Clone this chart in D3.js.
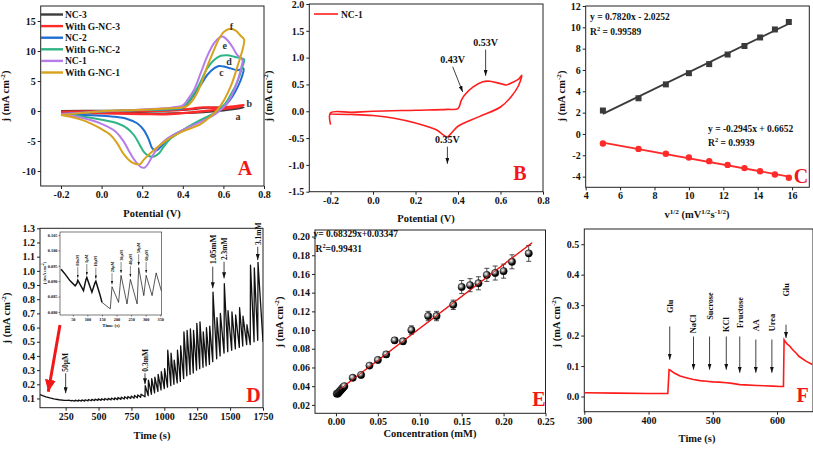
<!DOCTYPE html>
<html><head><meta charset="utf-8">
<script src="https://cdn.jsdelivr.net/npm/d3@7"></script>
<style>
body{margin:0;background:#fff}
svg{display:block}
text{font-family:"Liberation Serif","Times New Roman",serif;font-weight:bold}
</style></head><body>
<svg id="c" width="813" height="449"></svg>
<script>
// ---------------- DATA ----------------
// Panel A : cyclic voltammograms [E (V), j (mA cm-2)]
const cvNC3 = [[-0.2,0.0],[0.0,0.05],[0.2,0.08],[0.35,0.12],[0.45,0.3],[0.5,0.5],[0.55,0.6],[0.6,0.55],[0.65,0.55],[0.7,0.6],[0.68,0.45],[0.6,0.1],[0.5,-0.2],[0.4,-0.35],[0.3,-0.4],[0.1,-0.25],[-0.2,-0.1]];
const cvGNC3 = [[-0.2,-0.15],[0.0,-0.05],[0.2,0.0],[0.35,0.1],[0.45,0.4],[0.5,0.6],[0.55,0.55],[0.6,0.6],[0.65,0.75],[0.7,1.0],[0.68,0.75],[0.6,0.35],[0.5,-0.05],[0.4,-0.35],[0.3,-0.55],[0.2,-0.5],[0.0,-0.4],[-0.2,-0.35]];
const cvNC2 = [[-0.2,-0.5],[-0.1,-0.3],[0.0,-0.1],[0.2,0.15],[0.35,0.3],[0.4,0.45],[0.455,2.7],[0.488,4.3],[0.52,6.0],[0.554,7.1],[0.579,7.5],[0.603,7.4],[0.636,7.1],[0.669,6.8],[0.699,7.1],[0.694,6.0],[0.672,4.1],[0.644,2.4],[0.611,1.0],[0.57,-0.1],[0.488,-1.6],[0.4,-3.2],[0.34,-4.3],[0.307,-5.4],[0.282,-6.3],[0.266,-6.6],[0.249,-6.2],[0.233,-4.8],[0.208,-3.2],[0.175,-2.05],[0.126,-1.33],[0.06,-0.95],[-0.006,-0.78],[-0.088,-0.67],[-0.2,-0.5]];
const cvGNC2 = [[-0.2,-0.6],[-0.1,-0.35],[0.0,-0.1],[0.2,0.15],[0.35,0.35],[0.4,0.6],[0.455,2.9],[0.488,4.9],[0.52,7.1],[0.554,8.5],[0.587,9.2],[0.62,9.3],[0.653,9.05],[0.686,8.8],[0.702,8.6],[0.694,7.4],[0.669,4.9],[0.636,2.7],[0.603,1.0],[0.554,-0.4],[0.488,-1.5],[0.4,-3.2],[0.34,-4.6],[0.307,-5.9],[0.282,-7.1],[0.258,-7.6],[0.233,-7.5],[0.208,-6.8],[0.184,-5.4],[0.159,-4.0],[0.126,-2.9],[0.077,-2.05],[-0.006,-1.4],[-0.088,-0.95],[-0.2,-0.6]];
const cvNC1 = [[-0.2,-0.5],[-0.1,-0.3],[0.0,-0.05],[0.2,0.25],[0.35,0.6],[0.4,0.95],[0.422,1.8],[0.455,3.5],[0.488,6.3],[0.52,9.1],[0.554,11.3],[0.579,12.2],[0.595,12.4],[0.62,11.8],[0.644,10.7],[0.669,9.3],[0.694,8.5],[0.689,7.4],[0.66,4.1],[0.628,1.8],[0.595,0.44],[0.554,-0.67],[0.488,-1.8],[0.4,-3.2],[0.323,-4.6],[0.282,-5.9],[0.249,-7.6],[0.225,-9.0],[0.211,-9.45],[0.192,-9.3],[0.167,-8.4],[0.142,-7.1],[0.109,-5.1],[0.068,-3.4],[-0.006,-2.05],[-0.088,-1.2],[-0.2,-0.55]];
const cvGNC1 = [[-0.2,-0.67],[-0.1,-0.35],[0.0,-0.05],[0.2,0.2],[0.35,0.45],[0.4,0.6],[0.42,0.8],[0.455,2.1],[0.488,4.3],[0.52,7.4],[0.554,10.2],[0.579,12.1],[0.603,13.2],[0.636,13.7],[0.661,13.4],[0.686,12.5],[0.702,11.9],[0.669,7.4],[0.636,4.1],[0.603,1.8],[0.57,0.17],[0.537,-0.9],[0.488,-2.2],[0.4,-3.4],[0.323,-4.8],[0.258,-6.5],[0.208,-8.1],[0.19,-8.85],[0.165,-8.8],[0.142,-8.4],[0.109,-7.2],[0.077,-5.4],[0.044,-4.0],[-0.006,-2.9],[-0.055,-2.05],[-0.105,-1.4],[-0.154,-0.95],[-0.2,-0.67]];
const cvNames = ["NC-3","With G-NC-3","NC-2","With G-NC-2","NC-1","With G-NC-1"];
const cvLetters = ["a","b","c","d","e","f"];
const cvLetterPos = [[0.672,-0.9],[0.727,1.3],[0.59,6.5],[0.628,8.2],[0.607,11.0],[0.64,14.1]];

// Panel B : NC-1 CV
const cvB = [[-0.2,-0.25],[-0.2,-0.03],[-0.1,-0.02],[0.0,0.0],[0.2,0.02],[0.35,0.035],[0.4,0.05],[0.415,0.2],[0.43,0.3],[0.47,0.45],[0.517,0.55],[0.55,0.56],[0.595,0.52],[0.627,0.49],[0.658,0.54],[0.685,0.6],[0.7,0.67],[0.685,0.48],[0.65,0.27],[0.6,0.08],[0.5,-0.1],[0.4,-0.28],[0.37,-0.4],[0.35,-0.48],[0.33,-0.44],[0.3,-0.35],[0.2,-0.22],[0.1,-0.13],[0.0,-0.08],[-0.1,-0.06],[-0.2,-0.05]];
const bPeakLabels = ["0.43V","0.53V","0.35V"];
const bPeakTip = [[0.422,0.36],[0.53,0.66],[0.35,-0.98]];
const bPeakTail = [[0.375,0.83],[0.53,1.15],[0.35,-0.66]];

// Panel C : j vs v^1/2
const cX = [5,7.07,8.66,10,11.18,12.25,13.23,14.14,15,15.81];
const cAnodic = [2.2,3.35,4.65,5.7,6.55,7.45,8.25,9.05,9.8,10.5];
const cCathodic = [-0.9,-1.4,-1.85,-2.2,-2.55,-2.9,-3.2,-3.5,-3.8,-4.1];
const cFitA = [0.7820,-2.0252], cFitC = [-0.2945,0.6652];

// Panel D : amperometric i-t
const dDecay = [[55,0.128],[75,0.12],[100,0.112],[130,0.104],[160,0.097],[200,0.091],[240,0.087],[255,0.086]];
const dSmallT = [270,295,320,345,370,395,420,445,470,495,520,545,570,595,620,645,670,695,720,745,770,795,820];
const dSmallPeak = [0.088,0.087,0.088,0.089,0.09,0.091,0.093,0.094,0.095,0.097,0.098,0.1,0.101,0.103,0.104,0.107,0.109,0.112,0.114,0.117,0.121,0.125,0.13];
const dSmallTrough = [0.083,0.081,0.081,0.082,0.082,0.083,0.084,0.085,0.086,0.087,0.088,0.089,0.09,0.091,0.092,0.094,0.096,0.098,0.1,0.102,0.105,0.108,0.112];
const dBigT = [853,877,902,926,951,975,1000,1024,1049,1073,1098,1122,1147,1171,1196,1220,1245,1269,1294,1318,1343,1368,1398,1424,1454,1482,1512,1540,1570,1596,1626,1653,1682,1710];
const dBigPeak = [0.19,0.23,0.24,0.25,0.27,0.29,0.31,0.44,0.42,0.37,0.44,0.47,0.57,0.58,0.59,0.58,0.63,0.64,0.57,0.60,0.61,0.85,0.67,0.70,0.91,0.72,0.71,0.69,0.74,0.68,0.62,1.04,1.02,1.06];
const dBigTrough = [0.12,0.13,0.14,0.15,0.16,0.17,0.18,0.19,0.2,0.21,0.22,0.24,0.26,0.27,0.28,0.3,0.31,0.32,0.33,0.34,0.36,0.38,0.4,0.42,0.43,0.44,0.45,0.46,0.47,0.48,0.48,0.5,0.51,0.5];
const dEndT = 1750;
const dAnnLabel = ["50\u03bcM","0.3mM","1.05mM","2.3mM","3.1mM"];
const dAnnT = [250,853,1368,1454,1710];
const dAnnTip = [0.137,0.2,0.877,0.947,1.076];
const dAnnTop = [0.278,0.278,1.029,1.064,1.17];
const dAnnText = [0.289,0.289,1.046,1.076,1.182];
// inset of D
const insetData = [[9.7,0.0939],[23.5,0.0923],[40.7,0.0901],[58,0.0885],[64,0.0893],[67,0.0903],[86.6,0.0869],[95,0.0905],[98,0.0912],[115.5,0.0864],[126,0.0895],[129,0.0900],[144,0.0853],[150,0.0831],[178.6,0.0810],[184.5,0.0882],[207,0.0831],[215.5,0.0919],[236,0.0826],[247.6,0.0906],[270.7,0.0826],[276,0.0944],[293.6,0.0853],[301.7,0.0919],[322,0.0853],[336,0.0927],[354,0.0868]];
const insetAnnLabel = ["80nM","1\u03bcM","10\u03bcM","20\u03bcM","30\u03bcM","40\u03bcM","50\u03bcM","60\u03bcM"];
const insetAnnT = [67,98,129,184.5,215.5,247.6,276,301.7];
const insetAnnJ = [0.0903,0.0912,0.0900,0.0882,0.0919,0.0906,0.0944,0.0919];

// Panel E : calibration
const eConc = [0.001,0.002,0.003,0.004,0.005,0.006,0.007,0.008,0.009,0.01,0.02,0.03,0.04,0.05,0.06,0.07,0.08,0.09,0.11,0.12,0.14,0.15,0.16,0.17,0.18,0.19,0.20,0.21,0.23];
const eJ = [0.032,0.032,0.033,0.034,0.035,0.036,0.037,0.038,0.039,0.040,0.049,0.052,0.062,0.068,0.074,0.089,0.088,0.100,0.115,0.115,0.127,0.146,0.148,0.150,0.159,0.161,0.163,0.173,0.182];
const eErr = [0.001,0.001,0.001,0.001,0.001,0.001,0.001,0.001,0.001,0.001,0.002,0.002,0.002,0.002,0.003,0.003,0.003,0.0045,0.005,0.005,0.005,0.007,0.007,0.007,0.007,0.0075,0.0075,0.0075,0.0085];
const eFit = [0.68329,0.03347], eFitRange = [0.005,0.234];

// Panel F : interference
const fT = [300,350,400,430,432,434,440,449,460,470,480,490,500,510,521,530,542,550,568,580,594,605,610,611,613,616,620,624,630,634,645,655];
const fJ = [0.012,0.011,0.010,0.010,0.088,0.086,0.077,0.067,0.061,0.056,0.052,0.050,0.048,0.047,0.045,0.043,0.039,0.038,0.036,0.035,0.034,0.033,0.033,0.186,0.180,0.172,0.165,0.154,0.142,0.132,0.116,0.105];
const fAnnLabel = ["Glu","NaCl","Sucrose","KCl","Fructose","AA","Urea","Glu"];
const fAnnT = [433,470,495,521,542,567,592,614];
const fAnnTip = [0.121,0.088,0.088,0.088,0.078,0.078,0.078,0.192];
const fAnnTop = [0.23,0.197,0.197,0.197,0.197,0.187,0.187,0.236];
const fAnnText = [0.274,0.208,0.252,0.212,0.225,0.214,0.214,0.328];

// ---------------- DRAWING ----------------
const svg = d3.select('#c');
svg.append('rect').attr('width',813).attr('height',449).attr('fill','#fff');
const defs = svg.append('defs');
function marker(id, color, w, l){
  defs.append('marker').attr('id',id).attr('markerUnits','userSpaceOnUse')
    .attr('markerWidth',l).attr('markerHeight',w).attr('refX',l).attr('refY',w/2)
    .attr('orient','auto').append('path').attr('d',`M0,0L${l},${w/2}L0,${w}Z`).attr('fill',color);
}
marker('ah','#111',4,6);
marker('ahs','#111',2.4,3.2);
marker('ahr','#f01818',11,12);
const grad = defs.append('radialGradient').attr('id','ball').attr('cx','38%').attr('cy','36%').attr('r','60%');
grad.append('stop').attr('offset','0%').attr('stop-color','#ffffff');
grad.append('stop').attr('offset','35%').attr('stop-color','#9a9a9a');
grad.append('stop').attr('offset','75%').attr('stop-color','#111');
grad.append('stop').attr('offset','100%').attr('stop-color','#000');

const fmt = s => (d => d3.format(s)(d).replace('\u2212','-'));
const FONT = '"Liberation Serif","Times New Roman",serif';
let clipN = 0;
function panel(p){
  const g = svg.append('g');
  const x = d3.scaleLinear().domain(p.xd).range(p.xr);
  const y = d3.scaleLinear().domain(p.yd).range(p.yr);
  const ts = p.ts || 3, fs = p.fs || 10;
  g.append('rect').attr('x',p.xr[0]).attr('y',p.yr[1]).attr('width',p.xr[1]-p.xr[0]).attr('height',p.yr[0]-p.yr[1])
    .attr('fill',p.fill||'none').attr('stroke','#222').attr('stroke-width',p.sw||1);
  const ax = g.append('g').attr('transform',`translate(0,${p.yr[0]})`)
    .call(d3.axisBottom(x).tickValues(p.xt).tickFormat(p.xf).tickSize(ts).tickPadding(p.tp||2));
  const ay = g.append('g').attr('transform',`translate(${p.xr[0]},0)`)
    .call(d3.axisLeft(y).tickValues(p.yt).tickFormat(p.yf).tickSize(ts).tickPadding(p.tp||2));
  [ax,ay].forEach(a=>{
    a.select('.domain').remove();
    a.selectAll('line').attr('stroke','#222').attr('stroke-width',p.sw||1);
    a.selectAll('text').attr('font-size',fs).attr('font-family',FONT).attr('font-weight','bold').attr('fill','#111');
  });
  const clipId = 'clip'+(clipN++);
  defs.append('clipPath').attr('id',clipId).append('rect').attr('x',p.xr[0]).attr('y',p.yr[1]).attr('width',p.xr[1]-p.xr[0]).attr('height',p.yr[0]-p.yr[1]);
  const plot = g.append('g').attr('clip-path',`url(#${clipId})`);
  return {g,x,y,plot};
}
function rich(g, x, y, parts, o){
  const size = o.size||10;
  const t = g.append('text').attr('x',x).attr('y',y).attr('font-size',size)
    .attr('text-anchor',o.anchor||'start').attr('fill',o.fill||'#111');
  if (o.rotate) t.attr('transform',`rotate(${o.rotate},${x},${y})`);
  let up = false; const sh = size*0.4;
  parts.forEach(([s,sup])=>{
    const sp = t.append('tspan').text(s);
    if (sup){ sp.attr('font-size',size*0.68); if(!up){sp.attr('dy',-sh); up=true;} }
    else if (up){ sp.attr('dy',sh); up=false; }
  });
  return t;
}
const jLabel = [['j (mA cm',0],['-2',1],[')',0]];
function letter(x,y,s){ svg.append('text').attr('x',x).attr('y',y).attr('text-anchor','middle').attr('font-size',20).attr('fill','#f01818').text(s); }
function arrow(g,x1,y1,x2,y2,m,w){ g.append('line').attr('x1',x1).attr('y1',y1).attr('x2',x2).attr('y2',y2).attr('stroke','#111').attr('stroke-width',w||0.8).attr('marker-end',`url(#${m||'ah'})`); }

// ===== Panel A =====
{
  const P = panel({xd:[-0.3,0.8],xr:[40.7,264],yd:[-12.5,17.5],yr:[186,6],
    xt:[-0.2,0,0.2,0.4,0.6,0.8],xf:fmt('.1f'),yt:[-10,-5,0,5,10,15],yf:fmt('d')});
  const series = [cvNC3,cvGNC3,cvNC2,cvGNC2,cvNC1,cvGNC1];
  const colors = ['#3c3c3c','#ff2a2a','#1f6fd2','#2fb585','#b67ce8','#d7a21e'];
  const line = d3.line().x(d=>P.x(d[0])).y(d=>P.y(d[1])).curve(d3.curveCatmullRom.alpha(0.5));
  series.forEach((s,i)=>P.plot.append('path').attr('d',line(s)).attr('fill','none').attr('stroke',colors[i]).attr('stroke-width',i===1?2.4:2));
  cvNames.forEach((n,i)=>{
    const yy = 14.5 + i*11.6;
    P.g.append('line').attr('x1',41).attr('x2',63).attr('y1',yy).attr('y2',yy).attr('stroke',colors[i]).attr('stroke-width',2.4);
    P.g.append('text').attr('x',65).attr('y',yy+3.4).attr('font-size',9.5).attr('fill','#111').text(n);
  });
  cvLetters.forEach((l,i)=>P.g.append('text').attr('x',P.x(cvLetterPos[i][0])).attr('y',P.y(cvLetterPos[i][1])+3.5)
    .attr('text-anchor','middle').attr('font-size',10).attr('font-weight','normal').attr('fill','#333').text(l));
  rich(svg,9,96,jLabel,{size:10.5,anchor:'middle',rotate:-90});
  rich(svg,152,217,[['Potential (V)',0]],{size:10.5,anchor:'middle'});
  letter(245,175,'A');
}
// ===== Panel B =====
{
  const P = panel({xd:[-0.3,0.8],xr:[309.3,543],yd:[-1.5,2.0],yr:[191.7,4],
    xt:[-0.2,0,0.2,0.4,0.6,0.8],xf:fmt('.1f'),yt:[-1.5,-1,-0.5,0,0.5,1,1.5,2],yf:fmt('.1f')});
  const line = d3.line().x(d=>P.x(d[0])).y(d=>P.y(d[1])).curve(d3.curveCatmullRom.alpha(0.5));
  P.plot.append('path').attr('d',line(cvB)).attr('fill','none').attr('stroke','#ff1e1e').attr('stroke-width',1.6);
  P.g.append('line').attr('x1',314).attr('x2',338).attr('y1',14).attr('y2',14).attr('stroke','#ff1e1e').attr('stroke-width',1.6);
  P.g.append('text').attr('x',341).attr('y',17.5).attr('font-size',9.5).attr('fill','#111').text('NC-1');
  bPeakLabels.forEach((l,i)=>{
    const tx=P.x(bPeakTail[i][0]), ty=P.y(bPeakTail[i][1]);
    arrow(P.g,tx,ty,P.x(bPeakTip[i][0]),P.y(bPeakTip[i][1]));
    const above = bPeakTip[i][1] > bPeakTail[i][1] ? false : true;
    P.g.append('text').attr('x',tx).attr('y',above? ty-3.5 : ty+11).attr('text-anchor','middle').attr('font-size',10).attr('fill','#111').text(l);
  });
  rich(svg,272,96,jLabel,{size:10.5,anchor:'middle',rotate:-90});
  rich(svg,426,222,[['Potential (V)',0]],{size:10.5,anchor:'middle'});
  letter(520,180,'B');
}
// ===== Panel C =====
{
  const P = panel({xd:[4,17],xr:[585.7,809.3],yd:[-5,12],yr:[187.3,6],
    xt:[4,6,8,10,12,14,16],xf:fmt('d'),yt:[-4,-2,0,2,4,6,8,10,12],yf:fmt('d')});
  const x0=cX[0], x1=cX[cX.length-1];
  [[cFitA,'#3a3a3a'],[cFitC,'#ff2a2a']].forEach(([f,c])=>P.plot.append('line')
    .attr('x1',P.x(x0)).attr('x2',P.x(x1)).attr('y1',P.y(f[0]*x0+f[1])).attr('y2',P.y(f[0]*x1+f[1])).attr('stroke',c).attr('stroke-width',1.8));
  cX.forEach((xv,i)=>{
    P.plot.append('rect').attr('x',P.x(xv)-3).attr('y',P.y(cAnodic[i])-3).attr('width',6).attr('height',6).attr('fill','#3a3a3a');
    P.plot.append('circle').attr('cx',P.x(xv)).attr('cy',P.y(cCathodic[i])).attr('r',3.2).attr('fill','#ff2a2a');
  });
  rich(P.g,590,20,[['y = 0.7820x - 2.0252',0]],{size:9.5});
  rich(P.g,590,34.5,[['R',0],['2',1],[' = 0.99589',0]],{size:9.5});
  rich(P.g,708,131.5,[['y = -0.2945x + 0.6652',0]],{size:9.5});
  rich(P.g,708,146,[['R',0],['2',1],[' = 0.9939',0]],{size:9.5});
  rich(svg,565,96,jLabel,{size:10.5,anchor:'middle',rotate:-90});
  rich(svg,697,218,[['v',0],['1/2',1],[' (mV',0],['1/2',1],['s',0],['-1/2',1],[')',0]],{size:10.5,anchor:'middle'});
  letter(801,182.7,'C');
}
// ===== Panel D =====
{
  const P = panel({xd:[55,1750],xr:[40,263],yd:[0.035,1.3],yr:[407.7,228.3],
    xt:[250,500,750,1000,1250,1500,1750],xf:fmt('d'),
    yt:[0.1,0.2,0.3,0.4,0.5,0.6,0.7,0.8,0.9,1.0,1.1,1.2,1.3],yf:fmt('.1f')});
  const pts = dDecay.slice();
  let prev = dDecay[dDecay.length-1][1];
  dSmallT.forEach((t,i)=>{
    pts.push([t,prev],[t+3,dSmallPeak[i]]);
    prev = dSmallTrough[i];
    pts.push([i<dSmallT.length-1?dSmallT[i+1]:dBigT[0], prev]);
  });
  dBigT.forEach((t,i)=>{
    pts.push([t,prev],[t+2,dBigPeak[i]]);
    prev = dBigTrough[i];
    pts.push([i<dBigT.length-1?dBigT[i+1]:dEndT, prev]);
  });
  const line = d3.line().x(d=>P.x(d[0])).y(d=>P.y(d[1]));
  P.plot.append('path').attr('d',line(pts)).attr('fill','none').attr('stroke','#111').attr('stroke-width',1.3).attr('stroke-linejoin','round');
  dAnnLabel.forEach((l,i)=>{
    const xx = P.x(dAnnT[i]);
    arrow(P.g,xx,P.y(dAnnTop[i]),xx,P.y(dAnnTip[i]));
    const ty = P.y(dAnnText[i]);
    P.g.append('text').attr('x',xx+2.8).attr('y',ty).attr('transform',`rotate(-90,${xx+2.8},${ty})`)
      .attr('font-size',i===2?8.5:7.5).attr('fill','#111').text(l);
  });
  // red arrow
  P.g.append('line').attr('x1',P.x(207)).attr('y1',P.y(0.618)).attr('x2',P.x(118)).attr('y2',P.y(0.148))
    .attr('stroke','#f01818').attr('stroke-width',3).attr('marker-end','url(#ahr)');
  // inset
  const I = panel({xd:[6,355],xr:[60,161.7],yd:[0.079,0.106],yr:[315,232],fill:'#fff',
    xt:[50,100,150,200,250,300,350],xf:fmt('d'),yt:[0.08,0.085,0.09,0.095,0.1,0.105],yf:fmt('.3f'),
    ts:1.5,fs:4.3,tp:1,sw:0.6});
  const il = d3.line().x(d=>I.x(d[0])).y(d=>I.y(d[1]));
  I.plot.append('path').attr('d',il(insetData.filter(d=>d[0]<=150))).attr('fill','none').attr('stroke','#111').attr('stroke-width',1.5);
  I.plot.append('path').attr('d',il(insetData.filter(d=>d[0]>=150))).attr('fill','none').attr('stroke','#111').attr('stroke-width',0.7);
  insetAnnLabel.forEach((l,i)=>{
    const xx = I.x(insetAnnT[i]), tip = I.y(insetAnnJ[i]) - 2.5;
    arrow(I.g,xx,tip-11,xx,tip,'ahs',0.5);
    I.g.append('text').attr('x',xx+1.5).attr('y',tip-12).attr('transform',`rotate(-90,${xx+1.5},${tip-12})`)
      .attr('font-size',4.3).attr('fill','#111').text(l);
  });
  rich(svg,46,273,jLabel,{size:4.6,anchor:'middle',rotate:-90});
  rich(svg,111,327,[['Time (s)',0]],{size:5,anchor:'middle'});
  rich(svg,10,318,jLabel,{size:10.5,anchor:'middle',rotate:-90});
  rich(svg,152,439,[['Time (s)',0]],{size:10.5,anchor:'middle'});
  letter(253.5,401.7,'D');
}
// ===== Panel E =====
{
  const P = panel({xd:[-0.025,0.25],xr:[315,545.5],yd:[0.011,0.207],yr:[413.3,230],
    xt:[0,0.05,0.1,0.15,0.2,0.25],xf:fmt('.2f'),yt:[0.02,0.04,0.06,0.08,0.1,0.12,0.14,0.16,0.18,0.2],yf:fmt('.2f')});
  const fitLine = (w)=>P.plot.append('line').attr('x1',P.x(eFitRange[0])).attr('x2',P.x(eFitRange[1]))
    .attr('y1',P.y(eFit[0]*eFitRange[0]+eFit[1])).attr('y2',P.y(eFit[0]*eFitRange[1]+eFit[1])).attr('stroke','#f01818').attr('stroke-width',w);
  fitLine(1.3);
  eConc.forEach((c,i)=>{
    const xx=P.x(c), y1=P.y(eJ[i]-eErr[i]), y2=P.y(eJ[i]+eErr[i]);
    P.plot.append('path').attr('d',`M${xx},${y1}V${y2}M${xx-2.5},${y1}H${xx+2.5}M${xx-2.5},${y2}H${xx+2.5}`).attr('stroke','#222').attr('stroke-width',0.8).attr('fill','none');
  });
  eConc.forEach((c,i)=>P.plot.append('circle').attr('cx',P.x(c)).attr('cy',P.y(eJ[i])).attr('r',3.7).attr('fill','url(#ball)').attr('stroke','#000').attr('stroke-width',0.4));
  fitLine(0.9);
  rich(svg,313.5,237,[['y= 0.68329x+0.03347',0]],{size:9.5});
  rich(svg,315.5,251.5,[['R',0],['2',1],['=0.99431',0]],{size:9.5});
  rich(svg,283,322,jLabel,{size:10.5,anchor:'middle',rotate:-90});
  rich(svg,430,437,[['Concentration (mM)',0]],{size:10.5,anchor:'middle'});
  letter(539,406,'E');
}
// ===== Panel F =====
{
  const P = panel({xd:[300,656],xr:[584.3,813],yd:[-0.05,0.55],yr:[411.7,229],
    xt:[300,400,500,600],xf:fmt('d'),yt:[0,0.1,0.2,0.3,0.4,0.5],yf:fmt('.1f')});
  const line = d3.line().x((d,i)=>P.x(fT[i])).y((d,i)=>P.y(fJ[i]));
  P.plot.append('path').attr('d',line(fT)).attr('fill','none').attr('stroke','#ff1a1a').attr('stroke-width',1.6);
  fAnnLabel.forEach((l,i)=>{
    const xx=P.x(fAnnT[i]);
    arrow(P.g,xx,P.y(fAnnTop[i]),xx,P.y(fAnnTip[i]));
    const ty=P.y(fAnnText[i]);
    P.g.append('text').attr('x',xx+3).attr('y',ty).attr('transform',`rotate(-90,${xx+3},${ty})`).attr('font-size',8.3).attr('fill','#111').text(l);
  });
  rich(svg,560,322,jLabel,{size:10.5,anchor:'middle',rotate:-90});
  rich(svg,697,442,[['Time (s)',0]],{size:10.5,anchor:'middle'});
  letter(802.5,402,'F');
}
</script></body></html>
